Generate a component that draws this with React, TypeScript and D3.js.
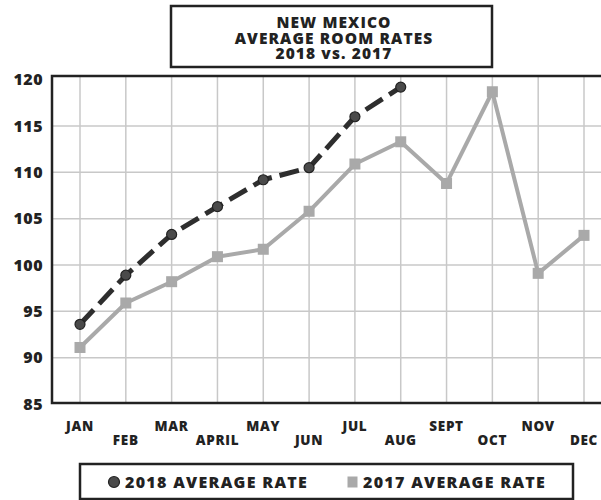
import React, {useEffect, useRef} from 'react';
import * as d3 from 'd3';

const months = ['JAN', 'FEB', 'MAR', 'APRIL', 'MAY', 'JUN', 'JUL', 'AUG', 'SEPT', 'OCT', 'NOV', 'DEC'];
const rates2018 = [93.6, 98.9, 103.3, 106.3, 109.2, 110.5, 116.0, 119.2];
const rates2017 = [91.1, 95.9, 98.2, 100.9, 101.7, 105.8, 110.9, 113.3, 108.8, 118.7, 99.1, 103.2];
const yTicks = [85, 90, 95, 100, 105, 110, 115, 120];
const titleLines = ['NEW MEXICO', 'AVERAGE ROOM RATES', '2018 vs. 2017'];

const FONT = '"Open Sans", Lato, sans-serif';

export default function App() {
  const el = useRef<SVGSVGElement>(null);

  useEffect(() => {
    const svg = d3.select(el.current);
    svg.selectAll('*').remove();

    const x = d3.scalePoint<string>().domain(months).range([80, 584]);
    const y = d3.scaleLinear().domain([85, 120]).range([404, 79.7]);
    const plotTop = 76;
    const plotBottom = 403;
    const plotLeft = 52;

    // grid
    const grid = svg.append('g').attr('stroke', '#c8c8c8').attr('stroke-width', 1.5);
    grid.selectAll('line.v')
      .data(months)
      .join('line')
      .attr('x1', d => x(d)!)
      .attr('x2', d => x(d)!)
      .attr('y1', plotTop)
      .attr('y2', plotBottom);
    grid.selectAll('line.h')
      .data(yTicks.filter(t => t > 85 && t < 120))
      .join('line')
      .attr('x1', plotLeft)
      .attr('x2', 601)
      .attr('y1', d => y(d))
      .attr('y2', d => y(d));

    // frame
    svg.append('rect')
      .attr('x', plotLeft)
      .attr('y', plotTop)
      .attr('width', 620 - plotLeft)
      .attr('height', plotBottom - plotTop)
      .attr('fill', 'none')
      .attr('stroke', '#222')
      .attr('stroke-width', 2.5);

    // y labels
    svg.append('g')
      .selectAll('text')
      .data(yTicks)
      .join('text')
      .attr('x', 43)
      .attr('y', d => y(d))
      .attr('dy', '0.36em')
      .attr('text-anchor', 'end')
      .attr('font-family', FONT)
      .attr('font-weight', 800)
      .attr('font-size', 16)
      .attr('letter-spacing', 0.5)
      .attr('fill', '#222')
      .text(d => d);

    // x labels, staggered
    svg.append('g')
      .selectAll('text')
      .data(months)
      .join('text')
      .attr('x', d => x(d)!)
      .attr('y', (d, i) => (i % 2 === 0 ? 431 : 444.5))
      .attr('text-anchor', 'middle')
      .attr('font-family', FONT)
      .attr('font-weight', 800)
      .attr('font-size', 13.5)
      .attr('letter-spacing', 0.7)
      .attr('fill', '#222')
      .text(d => d);

    // 2017 series
    const line = d3.line<number>().x((d, i) => x(months[i])!).y(d => y(d));
    svg.append('path')
      .datum(rates2017)
      .attr('fill', 'none')
      .attr('stroke', '#a9a9a9')
      .attr('stroke-width', 4)
      .attr('stroke-linejoin', 'round')
      .attr('d', line);
    svg.append('g')
      .selectAll('rect')
      .data(rates2017)
      .join('rect')
      .attr('x', (d, i) => x(months[i])! - 5.5)
      .attr('y', d => y(d) - 5.5)
      .attr('width', 11)
      .attr('height', 11)
      .attr('fill', '#a9a9a9');

    // 2018 series
    svg.append('path')
      .datum(rates2018)
      .attr('fill', 'none')
      .attr('stroke', '#2e2e2e')
      .attr('stroke-width', 5)
      .attr('stroke-dasharray', '20 8')
      .attr('d', line);
    svg.append('g')
      .selectAll('circle')
      .data(rates2018)
      .join('circle')
      .attr('cx', (d, i) => x(months[i])!)
      .attr('cy', d => y(d))
      .attr('r', 5)
      .attr('fill', '#4a4a4a')
      .attr('stroke', '#222')
      .attr('stroke-width', 1.2);

    // title box
    svg.append('rect')
      .attr('x', 171)
      .attr('y', 6)
      .attr('width', 321)
      .attr('height', 61)
      .attr('fill', '#fff')
      .attr('stroke', '#222')
      .attr('stroke-width', 2.5);
    svg.append('g')
      .selectAll('text')
      .data(titleLines)
      .join('text')
      .attr('x', 334)
      .attr('y', (d, i) => 28.4 + i * 15.3)
      .attr('text-anchor', 'middle')
      .attr('font-family', FONT)
      .attr('font-weight', 800)
      .attr('font-size', 15.5)
      .attr('letter-spacing', 1.1)
      .attr('fill', '#222')
      .text(d => d);

    // legend
    svg.append('rect')
      .attr('x', 80)
      .attr('y', 464)
      .attr('width', 493)
      .attr('height', 35)
      .attr('fill', '#fff')
      .attr('stroke', '#222')
      .attr('stroke-width', 2.5);
    svg.append('circle')
      .attr('cx', 114)
      .attr('cy', 482)
      .attr('r', 5.5)
      .attr('fill', '#4a4a4a')
      .attr('stroke', '#222')
      .attr('stroke-width', 1.2);
    svg.append('text')
      .attr('x', 125)
      .attr('y', 482)
      .attr('dy', '0.36em')
      .attr('font-family', FONT)
      .attr('font-weight', 800)
      .attr('font-size', 16)
      .attr('letter-spacing', 1.3)
      .attr('fill', '#222')
      .text('2018 AVERAGE RATE');
    svg.append('rect')
      .attr('x', 347.5)
      .attr('y', 476.5)
      .attr('width', 10)
      .attr('height', 11)
      .attr('fill', '#a9a9a9');
    svg.append('text')
      .attr('x', 363)
      .attr('y', 482)
      .attr('dy', '0.36em')
      .attr('font-family', FONT)
      .attr('font-weight', 800)
      .attr('font-size', 16)
      .attr('letter-spacing', 1.3)
      .attr('fill', '#222')
      .text('2017 AVERAGE RATE');
  }, []);

  return (
    <div style={{position: 'absolute', left: 0, top: 0}}>
      <svg ref={el} width={601} height={500} style={{display: 'block', background: '#fff'}} />
    </div>
  );
}
